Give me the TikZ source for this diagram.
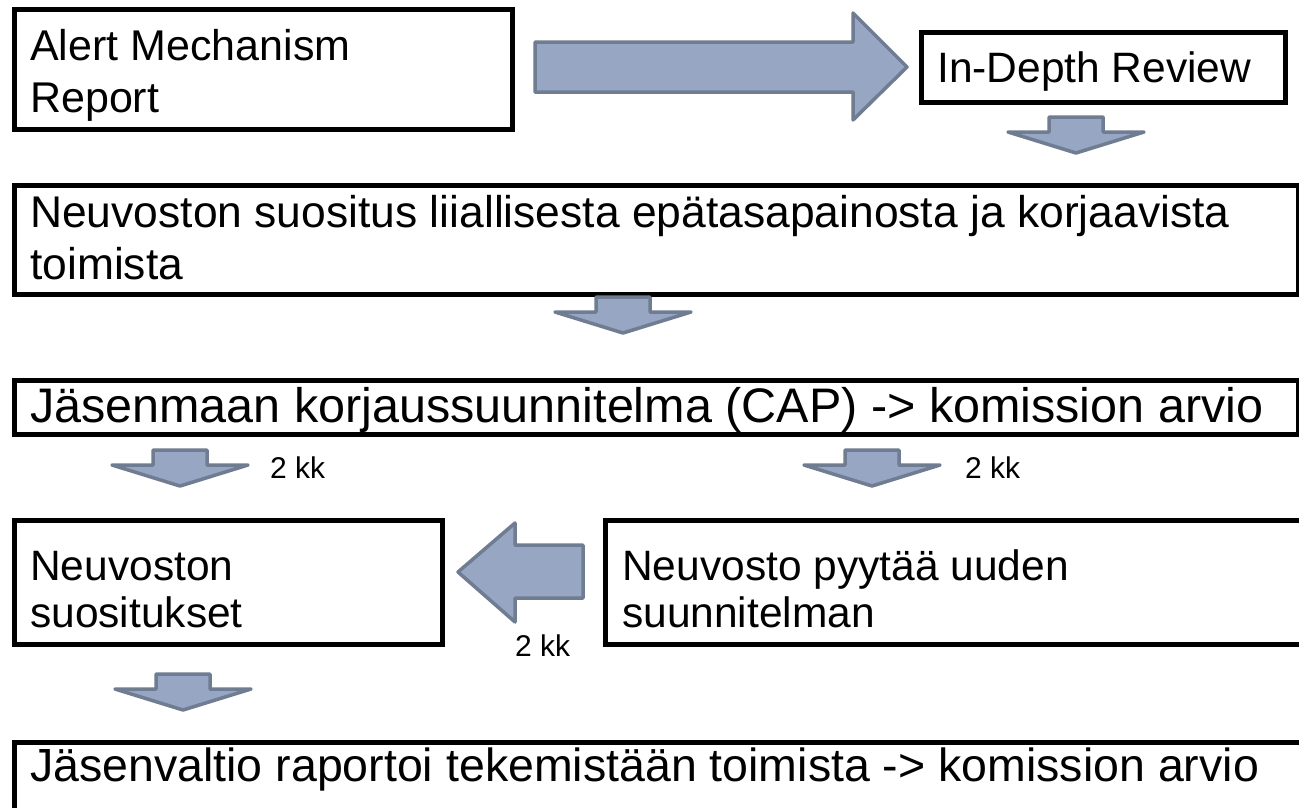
\documentclass[tikz,border=0pt]{standalone}
\usepackage{fontspec}
\setmainfont{Liberation Sans}
\definecolor{arrowfill}{HTML}{97A7C3}
\definecolor{arrowline}{HTML}{6F7C91}
\begin{document}
\begin{tikzpicture}[x=1pt,y=-1pt,
  box/.style={draw=black, line width=4.5pt, inner sep=0pt, anchor=north west},
  barrow/.style={fill=arrowfill, draw=arrowline, line width=3.5pt, line join=round},
  txt/.style={anchor=base west, inner sep=0pt, font=\fontsize{#1}{54}\selectfont},
  lbl/.style={anchor=base west, inner sep=0pt, font=\fontsize{30}{34}\selectfont},
  downarr/.pic={\draw[barrow] (-27,0) -- (27,0) -- (27,15) -- (68,15) -- (0,36) -- (-68,15) -- (-27,15) -- cycle;}
]
\useasboundingbox (0,0) rectangle (1299,807);
\clip (0,0) rectangle (1299,807);
\fill[white] (0,0) rectangle (1299,807);

% boxes
\node[box, minimum width=498pt, minimum height=120pt] (b1) at (12,7) {};
\node[box, minimum width=364pt, minimum height=70pt] (b2) at (919,30) {};
\node[box, minimum width=1284pt, minimum height=109pt] (b3) at (12,183) {};
\node[box, minimum width=1284pt, minimum height=54pt] (b4) at (12,378) {};
\node[box, minimum width=428pt, minimum height=124pt] (b5) at (12,518) {};
\node[box, minimum width=710pt, minimum height=124pt] (b6) at (603,518) {};
\node[box, minimum width=1310pt, minimum height=100pt] (b7) at (12,740) {};

% texts
\node[txt=43] (t1a) at (30,60) {Alert Mechanism};
\node[txt=43] (t1b) at (30,112) {Report};
\node[txt=42.5] (t2) at (937,82) {In-Depth Review};
\node[txt=44.4] (t3a) at (30,227) {Neuvoston suositus liiallisesta epätasapainosta ja korjaavista};
\node[txt=44.4] (t3b) at (30,279) {toimista};
\node[txt=48.5] (t4) at (30,422) {Jäsenmaan korjaussuunnitelma (CAP) -> komission arvio};
\node[txt=42.5] (t5a) at (30,580) {Neuvoston};
\node[txt=42.5] (t5b) at (30,627) {suositukset};
\node[txt=42.5] (t6a) at (622,580) {Neuvosto pyytää uuden};
\node[txt=42.5] (t6b) at (622,627) {suunnitelman};
\node[txt=46.5] (t7) at (30,781) {Jäsenvaltio raportoi tekemistään toimista -> komission arvio};

% block arrows
\draw[barrow] (535,42) -- (853,42) -- (853,13) -- (907,67) -- (853,120) -- (853,92) -- (535,92) -- cycle;
\pic at (1076,117) {downarr};
\pic at (623,297) {downarr};
\pic at (180,450) {downarr};
\pic at (872,450) {downarr};
\draw[barrow] (583,545) -- (515,545) -- (515,523) -- (458,572) -- (515,622) -- (515,598) -- (583,598) -- cycle;
\pic at (183,674) {downarr};

% labels
\node[lbl] (l1) at (270,478) {2 kk};
\node[lbl] (l2) at (965,478) {2 kk};
\node[lbl] (l3) at (515,656) {2 kk};
\end{tikzpicture}
\end{document}
